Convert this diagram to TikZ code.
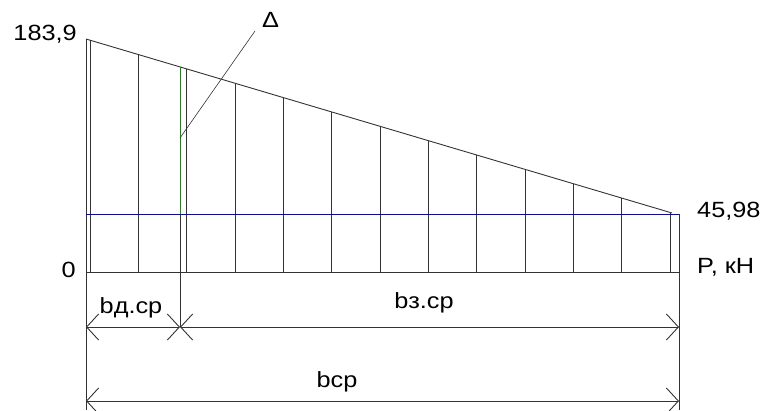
\documentclass[tikz,border=0pt]{standalone}
\usepackage{fontspec}
\setmainfont{Liberation Sans}[FakeStretch=1.15]
\usetikzlibrary{arrows.meta,calc}

\begin{document}
\begin{tikzpicture}[
  x=1pt, y=-1pt,
  ln/.style={draw=black!80, line width=0.9pt},
  dim/.style={ln, {Straight Barb[length=12pt,width=26pt]}-{Straight Barb[length=12pt,width=26pt]}},
  lab/.style={font=\fontsize{22}{26}\selectfont, inner sep=0pt}
]
\useasboundingbox (0,0) rectangle (765,410);
% main points of the epure
\coordinate (top) at (86,39);
\coordinate (slopeend) at (672,213);
\coordinate (orig) at (86,272);
\coordinate (baseend) at (679,272);
\coordinate (lvl) at (86,214);
\coordinate (lvlend) at (679,214);
\coordinate (g) at (180,138);
\coordinate (gtop) at (180,{39+(180-86)/586*174});
\coordinate (d1l) at (86,327);
\coordinate (d1m) at (180,327);
\coordinate (d1r) at (679,327);
\coordinate (d2l) at (86,401);
\coordinate (d2r) at (679,401);
% outline
\draw[ln] (top) -- (slopeend);
\draw[ln] (top) -- (86,410);
\draw[ln] (lvlend) -- (679,410);
\draw[ln] (orig) -- (baseend);
% ordinates
\foreach \i in {0,...,12}{
  \pgfmathsetmacro{\xx}{90+\i*48.333}
  \draw[ln] (\xx,{39+(\xx-86)/586*174}) -- (\xx,272);
}
% level 45,98
\draw[blue, line width=0.9pt] (lvl) -- (lvlend);
% delta
\draw[green!60!black, line width=0.9pt] (gtop) -- (180,214);
\draw[ln] (180,214) -- (d1m);
\node[lab, anchor=base west] (delta) at (262,27) {Δ};
\draw[ln, line width=0.6pt] (g) -- (255,31);
% dimensions
\draw[dim] (d1l) -- (d1m);
\draw[dim] (d1m) -- (d1r);
\draw[dim] (d2l) -- (d2r);
% labels
\node[lab, anchor=base east] (pmax) at (77,40) {183,9};
\node[lab, anchor=base east] (zero) at (76,277) {0};
\node[lab, anchor=base west] (pmin) at (697,217) {45,98};
\node[lab, anchor=base west] (unit) at (697,273) {P, кН};
\node[lab, anchor=base] (bd) at (131,313) {bд.ср};
\node[lab, anchor=base] (bz) at (424,308) {bз.ср};
\node[lab, anchor=base] (b) at (337,387) {bср};
\end{tikzpicture}
\end{document}
